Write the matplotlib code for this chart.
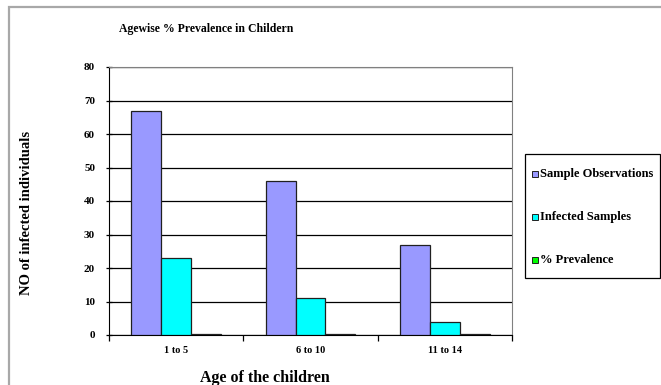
import matplotlib
matplotlib.use("Agg")
import matplotlib.pyplot as plt
from matplotlib.patches import Rectangle
import numpy as np

plt.rcParams['font.family'] = ['Liberation Serif', 'DejaVu Serif']
plt.rcParams['font.weight'] = 'bold'

age_groups = ["1 to 5", "6 to 10", "11 to 14"]
sample_observations = [67, 46, 27]
infected_samples = [23, 11, 4]
prevalence = [0.34, 0.24, 0.15]

series = [
    ("Sample Observations", sample_observations, "#9999FF"),
    ("Infected Samples", infected_samples, "#00FFFF"),
    ("% Prevalence", prevalence, "#00FF00"),
]

W, H = 661, 385
fig = plt.figure(figsize=(W / 100, H / 100), dpi=100)


def fx(px):
    return px / W


def fy(py):
    return 1 - py / H


# outer chart frame (left and top edges only are in view)
fig.add_artist(Rectangle((fx(9), -0.2), 2.0, 1.2 - 7 / H, transform=fig.transFigure,
                         fill=False, edgecolor="#a8a8a8", linewidth=1.6))

ax = fig.add_axes([fx(109), fy(335), (512 - 109) / W, (335 - 67) / H])

x = np.arange(len(age_groups))
bw = (2 / 3) / 3
for i, (name, vals, col) in enumerate(series):
    ax.bar(x - bw + i * bw, vals, width=bw, color=col, edgecolor="#202020",
           linewidth=0.9, label=name, zorder=3)

ax.set_xlim(-0.5, len(age_groups) - 0.5)
ax.set_ylim(0, 80)
ax.set_yticks(range(0, 81, 10))
ax.set_xticks(x)
ax.set_xticklabels(age_groups, fontsize=7.5, fontweight='bold')
ax.tick_params(axis='x', length=0, pad=8)
ax.set_xticks(np.arange(-0.5, len(age_groups), 1.0), minor=True)
ax.tick_params(axis='x', which='minor', length=4, width=0.9, direction='out')
ax.tick_params(axis='y', length=4, width=0.9, direction='inout', labelsize=8, pad=8)
for lbl in ax.get_yticklabels():
    lbl.set_fontweight('bold')

ax.yaxis.grid(True, color="black", linewidth=0.9, zorder=0)
ax.set_axisbelow(True)
ax.spines['left'].set_color('black')
ax.spines['bottom'].set_color('black')
ax.spines['top'].set_color('#808080')
ax.spines['right'].set_color('#808080')

fig.text(fx(206), fy(29), "Agewise % Prevalence in Childern", ha='center', va='center',
         fontsize=8.5, fontweight='bold')
fig.text(fx(265), fy(378), "Age of the children", ha='center', va='center',
         fontsize=11.5, fontweight='bold')
fig.text(fx(27), fy(213), "NO of infected individuals", ha='center', va='center',
         rotation=90, fontsize=10.5, fontweight='bold')

# legend box with widely spaced entries
fig.add_artist(Rectangle((fx(525), fy(278)), (660 - 525) / W, (278 - 154) / H,
                         transform=fig.transFigure, facecolor='white',
                         edgecolor='black', linewidth=0.9))
entry_rows = [174, 217, 260]
sq = 6
for (name, vals, col), row in zip(series, entry_rows):
    fig.add_artist(Rectangle((fx(532), fy(row + sq / 2)), sq / W, sq / H,
                             transform=fig.transFigure, facecolor=col,
                             edgecolor='#202020', linewidth=0.7))
    fig.text(fx(540), fy(row), name, ha='left', va='center',
             fontsize=9, fontweight='bold')

fig.savefig("out.png", dpi=100)
